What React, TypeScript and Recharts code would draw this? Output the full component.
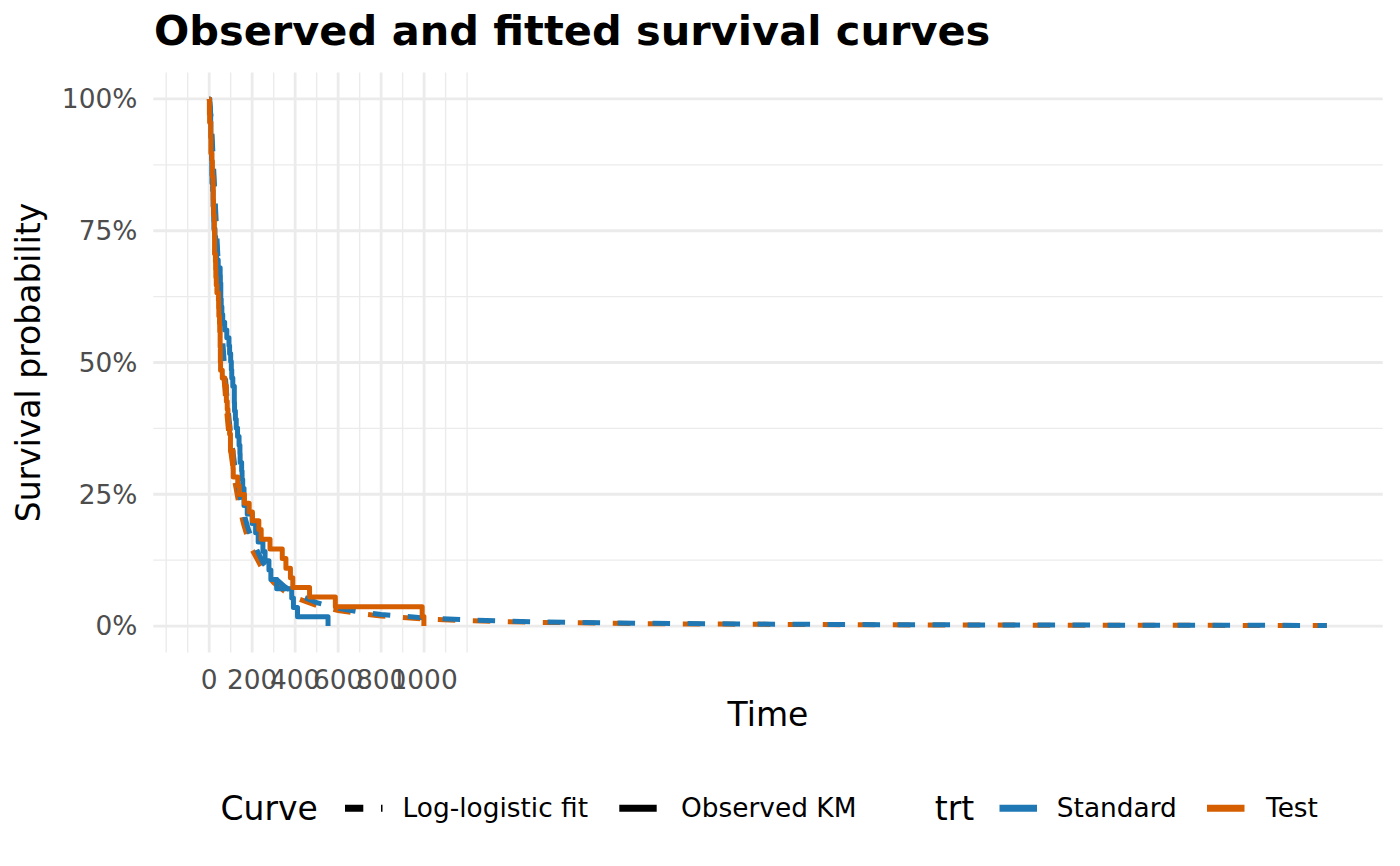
import { LineChart, Line, XAxis, YAxis, CartesianGrid } from 'recharts';

// Kaplan-Meier steps (time, survival)
const kmStandardTime = [
  0, 3, 4, 7, 8, 10, 11, 12, 13, 16, 18, 20, 21, 22, 27, 30, 31, 35, 42, 51, 52,
  54, 56, 59, 63, 72, 82, 92, 95, 100, 103, 105, 110, 117, 118, 122, 126, 132,
  139, 143, 144, 151, 153, 156, 162, 177, 200, 216, 228, 250, 260, 278, 287,
  314, 384, 392, 411, 553,
];
const kmStandardSurv = [
  1, 0.9855, 0.971, 0.9565, 0.9275, 0.8986, 0.8841, 0.8551, 0.8406, 0.8261,
  0.7971, 0.7826, 0.7681, 0.7536, 0.7388, 0.7241, 0.7093, 0.6945, 0.6798,
  0.665, 0.6502, 0.6206, 0.6059, 0.5911, 0.5763, 0.5615, 0.5468, 0.532,
  0.5172, 0.502, 0.4863, 0.4706, 0.4549, 0.4236, 0.4079, 0.3922, 0.3758,
  0.3595, 0.3432, 0.3268, 0.3105, 0.2941, 0.2778, 0.2615, 0.2288, 0.2124,
  0.1947, 0.177, 0.1593, 0.1416, 0.1239, 0.1062, 0.0885, 0.0708, 0.0531,
  0.0354, 0.0177, 0,
];
const kmTestTime = [
  0, 1, 2, 7, 8, 13, 15, 18, 19, 20, 21, 24, 25, 29, 30, 31, 33, 36, 43, 44, 45,
  48, 49, 51, 52, 53, 61, 73, 80, 84, 87, 90, 95, 99, 111, 112, 133, 140, 164,
  186, 201, 231, 242, 283, 340, 357, 378, 389, 467, 587, 991, 999,
];
const kmTestSurv = [
  1, 0.9706, 0.9559, 0.9265, 0.8971, 0.8824, 0.8529, 0.8382, 0.8088, 0.7941,
  0.7794, 0.75, 0.7059, 0.6912, 0.6765, 0.6618, 0.6471, 0.6324, 0.6176,
  0.6029, 0.5882, 0.5735, 0.5588, 0.5294, 0.5, 0.4853, 0.4706, 0.4559,
  0.4265, 0.4112, 0.396, 0.3802, 0.3643, 0.3327, 0.2994, 0.2828, 0.2661,
  0.2495, 0.2329, 0.2162, 0.1996, 0.183, 0.1647, 0.1464, 0.1281, 0.1098,
  0.0915, 0.0732, 0.0549, 0.0366, 0.0183, 0,
];

// log-logistic fitted curves
const fitTime = [
  0, 2, 5, 10, 15, 20, 25, 30, 40, 50, 60, 70, 80, 90, 100, 120, 140, 160, 180,
  200, 250, 300, 350, 400, 500, 600, 700, 800, 1000, 1200, 1500, 2000, 2500,
  3000, 3500, 4000, 4600, 5200,
];
const fitStandardSurv = [
  1, 0.9961, 0.984, 0.9542, 0.9171, 0.876, 0.8328, 0.7895, 0.7054, 0.6283,
  0.5598, 0.5, 0.4481, 0.4032, 0.3644, 0.3014, 0.2533, 0.2159, 0.1864, 0.1628,
  0.1207, 0.0936, 0.0751, 0.0619, 0.0445, 0.0339, 0.0268, 0.0219, 0.0155,
  0.0117, 0.0083, 0.0053, 0.0038, 0.0028, 0.0022, 0.0018, 0.0015, 0.0012,
];
const fitTestSurv = [
  1, 0.9955, 0.9816, 0.9477, 0.9058, 0.86, 0.8125, 0.7653, 0.6755, 0.5951,
  0.5252, 0.4651, 0.4139, 0.3701, 0.3326, 0.2728, 0.2278, 0.1932, 0.1661,
  0.1446, 0.1066, 0.0824, 0.066, 0.0542, 0.0389, 0.0296, 0.0234, 0.0191,
  0.0135, 0.0102, 0.0072, 0.0046, 0.0033, 0.0025, 0.0019, 0.0016, 0.0013,
  0.001,
];

const xTicks = [0, 200, 400, 600, 800, 1000];
const yTicks = [0, 0.25, 0.5, 0.75, 1];
const xMinorGrid = [-200, -100, 100, 300, 500, 700, 900, 1100, 1200];
const yMinorGrid = [0.125, 0.375, 0.625, 0.875];

const BLUE = '#1f78b4';
const ORANGE = '#d55e00';
const FONT = 'DejaVu Sans';
const LW = 5;

const toRows = (times: number[], surv: number[]) =>
  times.map((t, i) => ({ t, s: surv[i] }));

export default function App() {
  const kmStandard = toRows(kmStandardTime, kmStandardSurv);
  const kmTest = toRows(kmTestTime, kmTestSurv);
  const fitStandard = toRows(fitTime, fitStandardSurv);
  const fitTest = toRows(fitTime, fitTestSurv);

  const tickStyle = { fill: '#4d4d4d', fontSize: 26.4, fontFamily: FONT };

  return (
    <div
      style={{
        position: 'absolute',
        left: 0,
        top: 0,
        width: 1400,
        height: 866,
        background: '#fff',
        fontFamily: FONT,
      }}
    >
      <LineChart
        width={1400}
        height={866}
        margin={{ top: 72.6, right: 17.3, bottom: 153.6, left: 0 }}
      >
        <CartesianGrid
          stroke="#ebebeb"
          strokeWidth={1.4}
          horizontalValues={yMinorGrid}
          verticalValues={xMinorGrid}
        />
        <CartesianGrid
          stroke="#ebebeb"
          strokeWidth={2.8}
          horizontalValues={yTicks}
          verticalValues={xTicks}
        />
        <XAxis
          type="number"
          dataKey="t"
          domain={[-260, 5460]}
          ticks={xTicks}
          interval={0}
          allowDataOverflow
          axisLine={false}
          tickLine={false}
          tickSize={0}
          tickMargin={17.5}
          height={60}
          tick={tickStyle}
        />
        <YAxis
          type="number"
          dataKey="s"
          domain={[-0.05, 1.05]}
          ticks={yTicks}
          allowDataOverflow
          axisLine={false}
          tickLine={false}
          tickSize={0}
          tickMargin={16}
          width={153.3}
          tick={tickStyle}
          tickFormatter={(v: number) => `${Math.round(v * 100)}%`}
        />
        <Line
          data={fitTest}
          dataKey="s"
          type="linear"
          stroke={ORANGE}
          strokeWidth={LW}
          strokeDasharray="17.5 17.5"
          dot={false}
          isAnimationActive={false}
        />
        <Line
          data={fitStandard}
          dataKey="s"
          type="linear"
          stroke={BLUE}
          strokeWidth={LW}
          strokeDasharray="17.5 17.5"
          dot={false}
          isAnimationActive={false}
        />
        <Line
          data={kmStandard}
          dataKey="s"
          type="stepAfter"
          stroke={BLUE}
          strokeWidth={LW}
          strokeLinejoin="round"
          dot={false}
          isAnimationActive={false}
        />
        <Line
          data={kmTest}
          dataKey="s"
          type="stepAfter"
          stroke={ORANGE}
          strokeWidth={LW}
          strokeLinejoin="round"
          dot={false}
          isAnimationActive={false}
        />
      </LineChart>

      <svg
        width={1400}
        height={866}
        style={{ position: 'absolute', left: 0, top: 0, pointerEvents: 'none' }}
        fontFamily={FONT}
      >
        <text x={154} y={45} fontSize={41.5} fontWeight="bold" fill="#000">
          Observed and fitted survival curves
        </text>
        <text
          x={0}
          y={0}
          transform="translate(40,362.5) rotate(-90)"
          textAnchor="middle"
          fontSize={33}
          fill="#000"
        >
          Survival probability
        </text>
        <text x={768} y={726} textAnchor="middle" fontSize={33} fill="#000">
          Time
        </text>

        {/* legend: Curve */}
        <text x={220.5} y={820} fontSize={33} fill="#000">
          Curve
        </text>
        <line
          x1={345}
          x2={382.5}
          y1={808.3}
          y2={808.3}
          stroke="#000"
          strokeWidth={7}
          strokeDasharray="18.3 17.7"
        />
        <text x={402.5} y={817.3} fontSize={26.4} fill="#000">
          Log-logistic fit
        </text>
        <line x1={619.3} x2={656.7} y1={808.3} y2={808.3} stroke="#000" strokeWidth={7} />
        <text x={681} y={817.3} fontSize={26.4} fill="#000">
          Observed KM
        </text>

        {/* legend: trt */}
        <text x={934.7} y={820} fontSize={33} fill="#000">
          trt
        </text>
        <line x1={999.5} x2={1037} y1={808.3} y2={808.3} stroke={BLUE} strokeWidth={7} />
        <text x={1056.8} y={817.3} fontSize={26.4} fill="#000">
          Standard
        </text>
        <line x1={1207} x2={1244.5} y1={808.3} y2={808.3} stroke={ORANGE} strokeWidth={7} />
        <text x={1266} y={817.3} fontSize={26.4} fill="#000">
          Test
        </text>
      </svg>
    </div>
  );
}
